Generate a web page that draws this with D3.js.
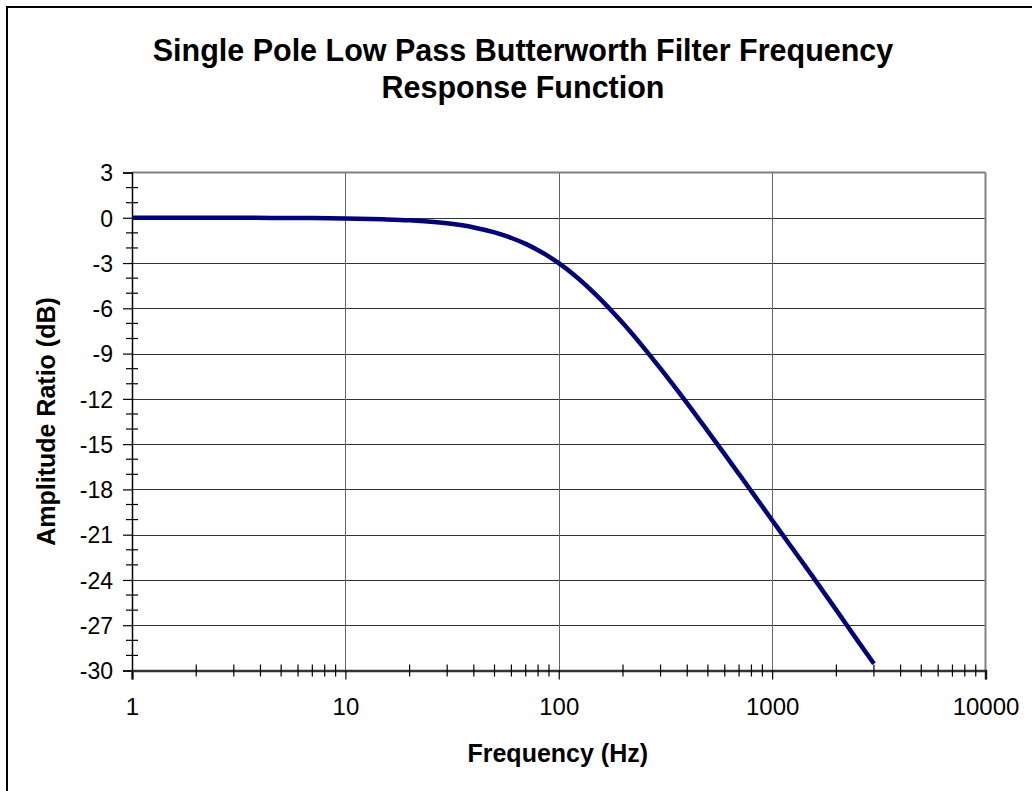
<!DOCTYPE html>
<html><head><meta charset="utf-8">
<script src="https://cdn.jsdelivr.net/npm/d3@7"></script>
<style>html,body{margin:0;padding:0;background:#fff;}svg{display:block;font-family:"Liberation Sans",Arial,sans-serif;}</style>
</head><body><svg id="c" width="1032" height="791"></svg>
<script>
const titleLines = ["Single Pole Low Pass Butterworth Filter Frequency", "Response Function"];
const xLabel = "Frequency (Hz)";
const yLabel = "Amplitude Ratio (dB)";
const frequencies = [1, 2, 3, 5, 7, 10, 15, 20, 30, 40, 50, 60, 70, 80, 90, 100, 120, 150, 200, 250, 300, 400, 500, 600, 700, 800, 1000, 1200, 1500, 2000, 2500, 3000];
const amplitudeDb = [0.00, 0.00, 0.00, -0.01, -0.02, -0.04, -0.10, -0.17, -0.37, -0.64, -0.97, -1.34, -1.73, -2.15, -2.57, -3.01, -3.87, -5.12, -6.99, -8.60, -10.0, -12.3, -14.15, -15.68, -16.99, -18.13, -20.04, -21.6, -23.5, -26.0, -27.97, -29.55];
const xMajorTicks = [1, 10, 100, 1000, 10000];
const xMinorTicks = [2,3,4,5,6,7,8,9,20,30,40,50,60,70,80,90,200,300,400,500,600,700,800,900,2000,3000,4000,5000,6000,7000,8000,9000];
const yMajorTicks = [3, 0, -3, -6, -9, -12, -15, -18, -21, -24, -27, -30];
const yMinorTicks = [2,1,-1,-2,-4,-5,-7,-8,-10,-11,-13,-14,-16,-17,-19,-20,-22,-23,-25,-26,-28,-29];
const xGrid = [10, 100, 1000];
const yGrid = [0, -3, -6, -9, -12, -15, -18, -21, -24, -27];

const svg = d3.select("#c");
const L = 132, R = 985.5, T = 172.5, B = 670.5;
const x = d3.scaleLog().domain([1, 10000]).range([L, R]);
const y = d3.scaleLinear().domain([-30, 3]).range([B, T]);

// outer frame
svg.append("rect").attr("x", 7).attr("y", 7).attr("width", 1100).attr("height", 900)
  .attr("fill", "none").attr("stroke", "#000").attr("stroke-width", 2);

// title
svg.append("text").attr("x", 523).attr("y", 61).attr("text-anchor", "middle")
  .attr("font-size", 30.5).attr("font-weight", "bold")
  .selectAll("tspan").data(titleLines).join("tspan")
  .attr("x", 523).attr("dy", (d, i) => i === 0 ? 0 : 37).text(d => d);

// grid
svg.append("g").selectAll("line").data(yGrid).join("line")
  .attr("x1", L).attr("x2", R).attr("y1", d => Math.round(y(d)) + 0.5).attr("y2", d => Math.round(y(d)) + 0.5)
  .attr("stroke", "#333").attr("stroke-width", 1);
svg.append("g").selectAll("line").data(xGrid).join("line")
  .attr("y1", T).attr("y2", B).attr("x1", d => Math.round(x(d)) + 0.5).attr("x2", d => Math.round(x(d)) + 0.5)
  .attr("stroke", "#666").attr("stroke-width", 1);

// top & right border
svg.append("line").attr("x1", L).attr("x2", R).attr("y1", T).attr("y2", T).attr("stroke", "#808080").attr("stroke-width", 2);
svg.append("line").attr("x1", R).attr("x2", R).attr("y1", T).attr("y2", B).attr("stroke", "#808080").attr("stroke-width", 2);

// Y axis
const yAxis = svg.append("g").attr("transform", `translate(${L},0)`)
  .call(d3.axisLeft(y).tickValues(yMajorTicks).tickSize(9).tickPadding(10).tickFormat(d => String(d)));
yAxis.select(".domain").attr("stroke", "#000").attr("stroke-width", 1.5);
yAxis.selectAll(".tick line").attr("stroke", "#000").attr("stroke-width", 1.2);
yAxis.selectAll(".tick text").attr("font-size", 23).attr("font-family", "Liberation Sans, Arial, sans-serif").attr("fill", "#000").attr("dy", "0.36em");
svg.append("g").selectAll("line").data(yMinorTicks).join("line")
  .attr("x1", L - 6).attr("x2", L + 6).attr("y1", d => y(d)).attr("y2", d => y(d))
  .attr("stroke", "#000").attr("stroke-width", 1.2);

// X axis
const xAxis = svg.append("g").attr("transform", `translate(0,${B})`)
  .call(d3.axisBottom(x).tickValues(xMajorTicks).tickSize(9).tickPadding(18).tickFormat(d => String(d)));
xAxis.select(".domain").attr("stroke", "#333").attr("stroke-width", 2.5);
xAxis.selectAll(".tick line").attr("stroke", "#000").attr("stroke-width", 1.2);
xAxis.selectAll(".tick text").attr("font-size", 24).attr("font-family", "Liberation Sans, Arial, sans-serif").attr("fill", "#000");
svg.append("g").selectAll("line").data(xMinorTicks).join("line")
  .attr("x1", d => x(d)).attr("x2", d => x(d)).attr("y1", B - 6).attr("y2", B + 6)
  .attr("stroke", "#000").attr("stroke-width", 1.2);

// axis titles
svg.append("text").attr("x", (L + R) / 2 - 1).attr("y", 762).attr("text-anchor", "middle")
  .attr("font-size", 25).attr("font-weight", "bold").text(xLabel);
svg.append("text").attr("transform", `translate(55,${(T + B) / 2}) rotate(-90)`).attr("text-anchor", "middle")
  .attr("font-size", 25).attr("font-weight", "bold").text(yLabel);

// curve
const pts = frequencies.map((f, i) => [f, amplitudeDb[i]]);
const lineGen = d3.line().x(d => x(d[0])).y(d => y(d[1])).curve(d3.curveMonotoneX);
svg.append("path").datum(pts)
  .attr("fill", "none").attr("stroke", "#000080").attr("stroke-width", 4.5)
  .attr("d", lineGen);
</script></body></html>
